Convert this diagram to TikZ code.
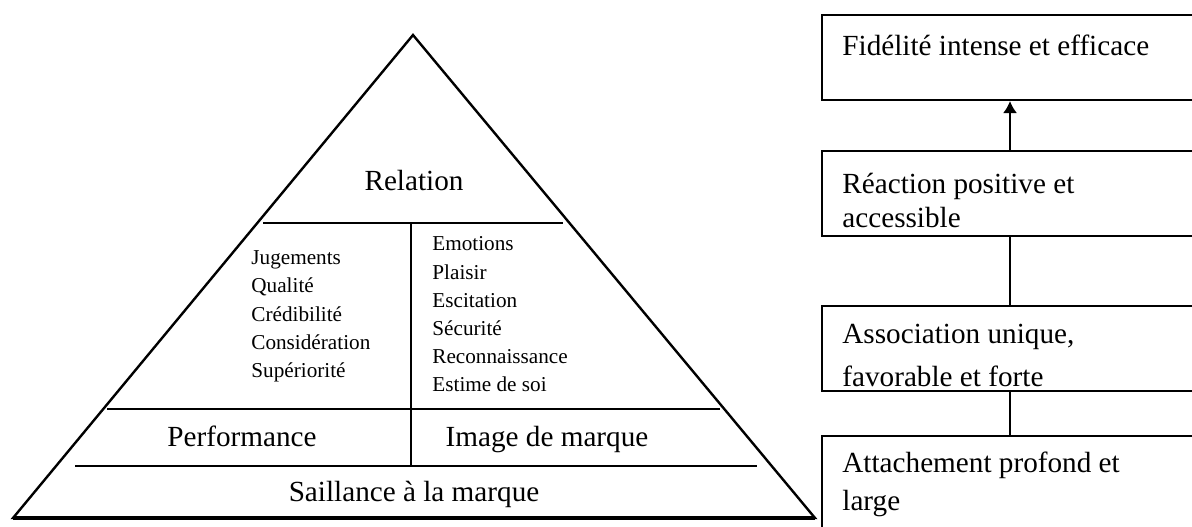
\documentclass[tikz,border=0pt]{standalone}
\usepackage{fontspec}
\setmainfont{Liberation Serif}
\usetikzlibrary{arrows.meta,positioning}

\tikzset{
  level/.style={line width=1.2pt},
  stage/.style={draw,line width=1pt,minimum width=188pt,minimum height=42.5pt,inner sep=0pt},
  big/.style={font=\fontsize{14.6}{17}\selectfont,inner sep=0pt,align=left},
  small/.style={font=\fontsize{10.6}{14.1}\selectfont,inner sep=0pt,align=left}
}

\begin{document}
\begin{tikzpicture}[x=0.5pt,y=-0.5pt]
\useasboundingbox (0,0) rectangle (1192,526);
\clip (0,0) rectangle (1192,526);
% pyramid
\coordinate (apex) at (413,35);
\coordinate (bl) at (13,518);
\coordinate (br) at (815,518);
\draw[level,line join=miter] (apex) -- (br) -- (bl) -- cycle;
\draw[line width=2pt] (bl) -- (br);
\draw[level] (263,223) -- (563,223);
\draw[level] (107,409) -- (720,409);
\draw[level] (75,466) -- (757,466);
\draw[level] (411,223) -- (411,466);
\node[big,anchor=base] (rel) at (414,190) {Relation};
\node[small,anchor=west] (jug) at (251,316.5) {Jugements\\Qualité\\Crédibilité\\Considération\\Supériorité};
\node[small,anchor=west] (emo) at (432,314.5) {Emotions\\Plaisir\\Escitation\\Sécurité\\Reconnaissance\\Estime de soi};
\node[big,anchor=base] (perf) at (242,446) {Performance};
\node[big,anchor=base] (img) at (547,446) {Image de marque};
\node[big,anchor=base] (sail) at (414,501) {Saillance à la marque};
% stages
\node[stage] (fid) at (1010,57.5) {};
\node[stage] (reac) at (1010,193) {};
\node[stage] (assoc) at (1010,348.5) {};
\node[stage,minimum height=50pt] (attach) at (1010,486) {};
\node[big,anchor=west] (tfid) at (842,45) {Fidélité intense et efficace};
\node[big,anchor=west,font=\fontsize{14.6}{17}\selectfont] (treac) at (842,200) {Réaction positive et\\accessible};
\node[big,anchor=west,font=\fontsize{14.6}{21.5}\selectfont] (tassoc) at (842,355) {Association unique,\\favorable et forte};
\node[big,anchor=west,font=\fontsize{14.6}{19}\selectfont] (tattach) at (842,484) {Attachement profond et\\large};
\draw[line width=1pt,-{Latex[length=6pt,width=7pt]}] (reac) -- (fid);
\draw[line width=1pt] (assoc) -- (reac);
\draw[line width=1pt] (attach) -- (assoc);
\end{tikzpicture}
\end{document}
